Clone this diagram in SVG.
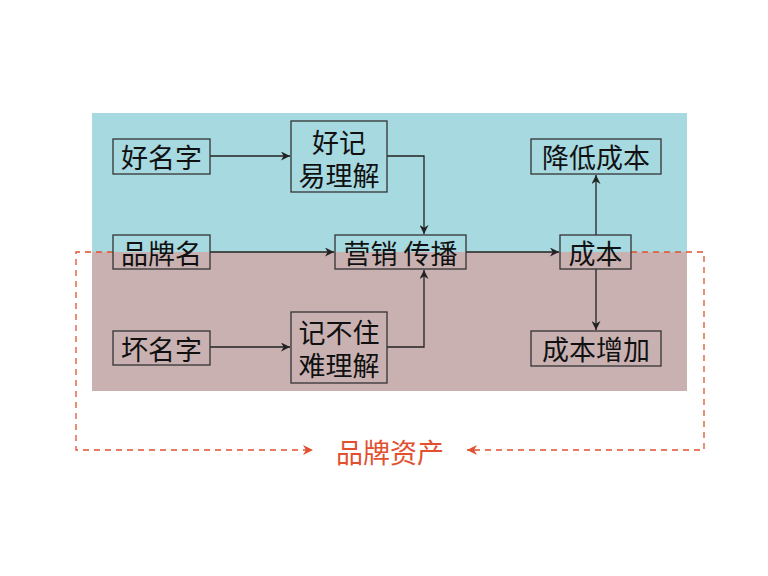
<svg xmlns="http://www.w3.org/2000/svg" width="768" height="576" viewBox="0 0 768 576">
<defs>
<style>
.box{fill:none;stroke:#333;stroke-width:1.3}
.t{font-family:"Noto Sans CJK SC","Noto Sans",sans-serif;font-size:27px;fill:#111;text-anchor:middle;dominant-baseline:central}
.c{fill:none;stroke:#222;stroke-width:1.3}
.d{fill:none;stroke:#e2502f;stroke-width:1.3;stroke-dasharray:6 5}
</style>
<marker id="ah" viewBox="0 0 10 10" refX="10" refY="5" markerWidth="9" markerHeight="9" markerUnits="userSpaceOnUse" orient="auto"><path d="M0,0 L10,5 L0,10 L3,5 Z" fill="#222"/></marker>
<marker id="ar" viewBox="0 0 10 10" refX="10" refY="5" markerWidth="10" markerHeight="10" markerUnits="userSpaceOnUse" orient="auto"><path d="M0,0 L10,5 L0,10 L3,5 Z" fill="#e2502f"/></marker>
</defs>
<rect width="768" height="576" fill="#fff"/>
<g id="bands">
<rect x="92" y="113" width="595" height="139" fill="#a6d9e0"/>
<rect x="92" y="252" width="595" height="139" fill="#c9b1b1"/>
</g>
<g id="connectors">
<path class="c" d="M210,156 H290" marker-end="url(#ah)"/>
<path class="c" d="M387,156 H424 V234" marker-end="url(#ah)"/>
<path class="c" d="M210,252 H334" marker-end="url(#ah)"/>
<path class="c" d="M210,347 H290" marker-end="url(#ah)"/>
<path class="c" d="M387,347 H424 V270" marker-end="url(#ah)"/>
<path class="c" d="M466,252 H559" marker-end="url(#ah)"/>
<path class="c" d="M596,235 V175" marker-end="url(#ah)"/>
<path class="c" d="M596,269 V330" marker-end="url(#ah)"/>
<path class="d" d="M113,252 H76 V450 H313" marker-end="url(#ar)"/>
<path class="d" d="M631,252 H704 V450 H467" marker-end="url(#ar)"/>
</g>
<g id="n-good"><rect class="box" x="113" y="139" width="97" height="35"/><text class="t" x="161.5" y="156.5">好名字</text></g>
<g id="n-easy"><rect class="box" x="291" y="121" width="96" height="71"/><text class="t" x="339" y="141">好记</text><text class="t" x="339" y="174">易理解</text></g>
<g id="n-brand"><rect class="box" x="113" y="235" width="97" height="34"/><text class="t" x="161.5" y="252">品牌名</text></g>
<g id="n-market"><rect class="box" x="335" y="235" width="131" height="34"/><text class="t" x="400.5" y="252">营销 传播</text></g>
<g id="n-bad"><rect class="box" x="113" y="331" width="97" height="34"/><text class="t" x="161.5" y="348">坏名字</text></g>
<g id="n-hard"><rect class="box" x="291" y="312" width="96" height="71"/><text class="t" x="339" y="331">记不住</text><text class="t" x="339" y="364">难理解</text></g>
<g id="n-cost"><rect class="box" x="560" y="235" width="71" height="34"/><text class="t" x="595.5" y="252">成本</text></g>
<g id="n-lower"><rect class="box" x="531" y="139" width="130" height="35"/><text class="t" x="596" y="156.5">降低成本</text></g>
<g id="n-higher"><rect class="box" x="531" y="331" width="130" height="35"/><text class="t" x="596" y="348.5">成本增加</text></g>
<g id="label"><text class="t" x="390" y="451" style="fill:#e2502f;font-size:27px">品牌资产</text></g>
</svg>
